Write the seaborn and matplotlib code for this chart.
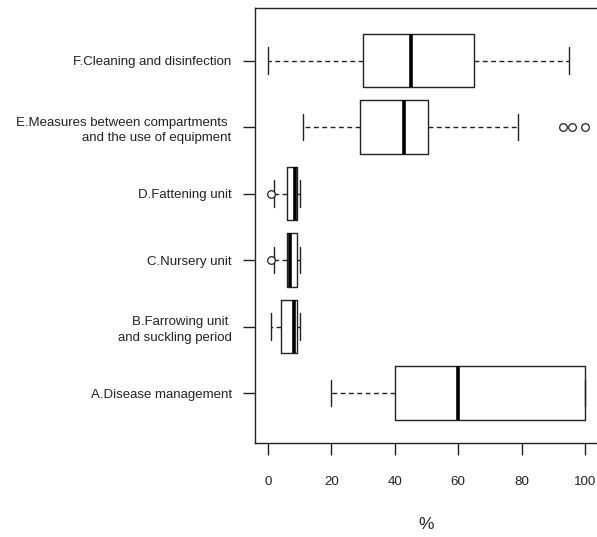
import matplotlib
matplotlib.use("Agg")
import matplotlib.pyplot as plt
import seaborn as sns
import pandas as pd

# Categories (top to bottom) and hand-read values per group (percent)
categories = [
    "F.Cleaning and disinfection",
    "E.Measures between compartments \nand the use of equipment",
    "D.Fattening unit",
    "C.Nursery unit",
    "B.Farrowing unit \nand suckling period",
    "A.Disease management",
]
f_values = [0, 30, 45, 65, 95]
e_values = [11, 17, 21, 25, 29, 33, 37, 40, 43, 45, 47, 49, 50.4, 79, 93, 96, 100]
d_values = [1, 2, 6, 7, 8.5, 9, 9, 10, 10]
c_values = [1, 2, 6, 6.5, 7, 8, 9, 10, 10]
b_values = [1, 4, 8.3, 9, 10]
a_values = [20, 40, 60, 100, 100]
x_ticks = [0, 20, 40, 60, 80, 100]

groups = [f_values, e_values, d_values, c_values, b_values, a_values]
df = pd.DataFrame({
    "group": [cat for cat, vals in zip(categories, groups) for _ in vals],
    "value": [v for vals in groups for v in vals],
})

sns.set_style("white")
plt.rcParams["font.family"] = ["Liberation Sans", "DejaVu Sans"]

W, H = 597, 537
fig = plt.figure(figsize=(W / 100, H / 100), dpi=100)
left, right, top, bottom = 255.3, 597.7, 8.0, 443.3
ax = fig.add_axes([left / W, 1 - bottom / H, (right - left) / W, (bottom - top) / H])

ink = "#222222"
sns.boxplot(
    data=df, x="value", y="group", order=categories, ax=ax,
    fill=False, color=ink, linecolor=ink, width=0.8, whis=1.5, linewidth=1.0,
    whiskerprops={"linestyle": (0, (3.5, 2.5)), "linewidth": 1.0, "color": ink},
    capprops={"linewidth": 1.0, "color": ink},
    medianprops={"linewidth": 2.6, "color": "black"},
    boxprops={"linewidth": 1.0, "color": ink},
    flierprops={"marker": "o", "markerfacecolor": "white", "markeredgecolor": ink,
                "markersize": 5.5, "markeredgewidth": 0.9},
)

ax.set_xlim(-4, 104)
ax.set_ylim(5.756, -0.79)
ax.set_xticks(x_ticks)
ax.set_xticklabels([str(t) for t in x_ticks])
ax.set_ylabel("")
ax.set_xlabel("%", fontsize=12.5, color=ink, labelpad=21)

ax.tick_params(axis="x", direction="out", length=8.5, width=1.0, color=ink,
               pad=15, labelsize=9.6, labelcolor=ink, bottom=True)
ax.tick_params(axis="y", direction="out", length=8.5, width=1.0, color=ink,
               pad=8.5, labelsize=9.5, labelcolor=ink, left=True)
ax.set_yticks(range(len(categories)))
ax.set_yticklabels(categories, linespacing=1.4)

for side in ["left", "bottom", "top", "right"]:
    ax.spines[side].set_visible(True)
    ax.spines[side].set_color(ink)
    ax.spines[side].set_linewidth(1.0)

fig.savefig("out.png", dpi=100, facecolor="white")
